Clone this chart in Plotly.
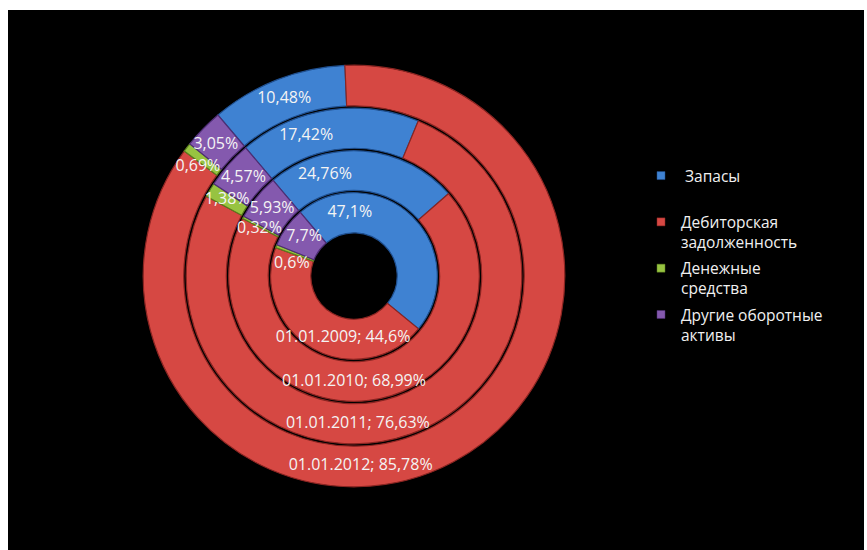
import plotly.graph_objects as go

# Asset structure by date (shares of current assets, %)
DATES = ["01.01.2009", "01.01.2010", "01.01.2011", "01.01.2012"]
CATEGORIES = ["Запасы", "Дебиторская задолженность", "Денежные средства",
              "Другие оборотные активы"]
ZAPASY = [47.1, 24.76, 17.42, 10.48]
DEBITOR = [44.6, 68.99, 76.63, 85.78]
CASH = [0.6, 0.32, 1.38, 0.69]
OTHER = [7.7, 5.93, 4.57, 3.05]
LEGEND_LABELS = ["\u00a0Запасы<br> ", "Дебиторская<br>задолженность",
                 "Денежные<br>средства", "Другие оборотные<br>активы"]

SERIES = [ZAPASY, DEBITOR, CASH, OTHER]
COLORS = ["#3F82D2", "#D64843", "#97C341", "#8459AE"]
EDGE_COLORS = ["#1F4F8F", "#8A2522", "#5A7E1E", "#4E2E74"]

# ring geometry (radial units = px of the polar domain)
RING_EDGES = [42, 84.5, 126.5, 169, 212]
START = 40.2          # first slice starts this many degrees left of 12 o'clock
FONT = "Open Sans"

# label placement (compass degrees, clockwise from 12 o'clock)
BLUE_LABEL_ANGLE = [-3.8, -16.0, -18.9, -21.5]
RED_LABEL_ANGLE = [190.0, 180.0, 178.5, 178.0]
LABEL_ANGLE_OVERRIDE = {(2, 0): -79.0, (3, 0): -52.0, (2, 1): -63.6,
                        (2, 3): -55.0, (3, 3): -46.5}


def fmt(v):
    return f"{v}".replace(".", ",") + "%"


fig = go.Figure()

lab_r, lab_t, lab_txt = [], [], []
n_rings = len(DATES)
starts = [0.0] * n_rings
for ci, (name, vals) in enumerate(zip(CATEGORIES, SERIES)):
    thetas, widths, bases, rs = [], [], [], []
    for ri, v in enumerate(vals):
        span = v * 3.6
        mid = starts[ri] + span / 2
        thetas.append(mid)
        widths.append(span)
        bases.append(RING_EDGES[ri] + 1.2)
        rs.append(RING_EDGES[ri + 1] - RING_EDGES[ri] - 2.4)
        rmid = (RING_EDGES[ri] + RING_EDGES[ri + 1]) / 2
        if ci == 0:
            t = BLUE_LABEL_ANGLE[ri] + START
            txt = fmt(v)
        elif ci == 1:
            t = RED_LABEL_ANGLE[ri] + START
            txt = f"{DATES[ri]}; " + fmt(v)
        else:
            t = LABEL_ANGLE_OVERRIDE.get((ci, ri), None)
            t = mid if t is None else t + START
            txt = fmt(v)
        lab_r.append(rmid)
        lab_t.append(t)
        lab_txt.append(txt)
        starts[ri] += span
    fig.add_trace(go.Barpolar(
        r=rs, base=bases, theta=thetas, width=widths,
        marker=dict(color=COLORS[ci], line=dict(color=EDGE_COLORS[ci], width=1.2)),
        name=name, legendgroup=name, showlegend=False,
        customdata=DATES, hovertemplate="%{customdata}<extra>" + name + "</extra>",
    ))
    # legend entry
    fig.add_trace(go.Scatterpolar(
        r=[None], theta=[None], mode="markers",
        marker=dict(symbol="square", size=8, color=COLORS[ci],
                    line=dict(color=EDGE_COLORS[ci], width=0.5)),
        name=LEGEND_LABELS[ci], legendgroup=name, showlegend=True,
    ))

fig.add_trace(go.Scatterpolar(
    r=lab_r, theta=lab_t, text=lab_txt, mode="text",
    textfont=dict(family=FONT, size=16, color="#F4F4F4"),
    showlegend=False, hoverinfo="skip",
))

W, H = 867, 550
ML, MR, MT, MB = 8, 3, 10, 0
pw, ph = W - ML - MR, H - MT - MB
cx, cy, R = 354, 276, RING_EDGES[-1]

fig.update_layout(
    width=W, height=H,
    margin=dict(l=ML, r=MR, t=MT, b=MB),
    paper_bgcolor="white",
    shapes=[dict(type="rect", xref="paper", yref="paper", x0=0, x1=1, y0=0, y1=1,
                 fillcolor="black", line=dict(width=0), layer="below")],
    polar=dict(
        domain=dict(x=[(cx - R - ML) / pw, (cx + R - ML) / pw],
                    y=[(H - cy - R) / ph, (H - cy + R) / ph]),
        bgcolor="rgba(0,0,0,0)",
        radialaxis=dict(range=[0, R], visible=False),
        angularaxis=dict(visible=False, rotation=90 + START, direction="clockwise"),
    ),
    legend=dict(
        x=(641 - ML) / pw, xanchor="left", y=(H - 159) / ph, yanchor="top",
        font=dict(family=FONT, size=15.5, color="#F0F0F0"),
        valign="top", bgcolor="rgba(0,0,0,0)", itemwidth=30,
        tracegroupgap=3,
    ),
    font=dict(family=FONT),
)

fig.write_html("out.html")
